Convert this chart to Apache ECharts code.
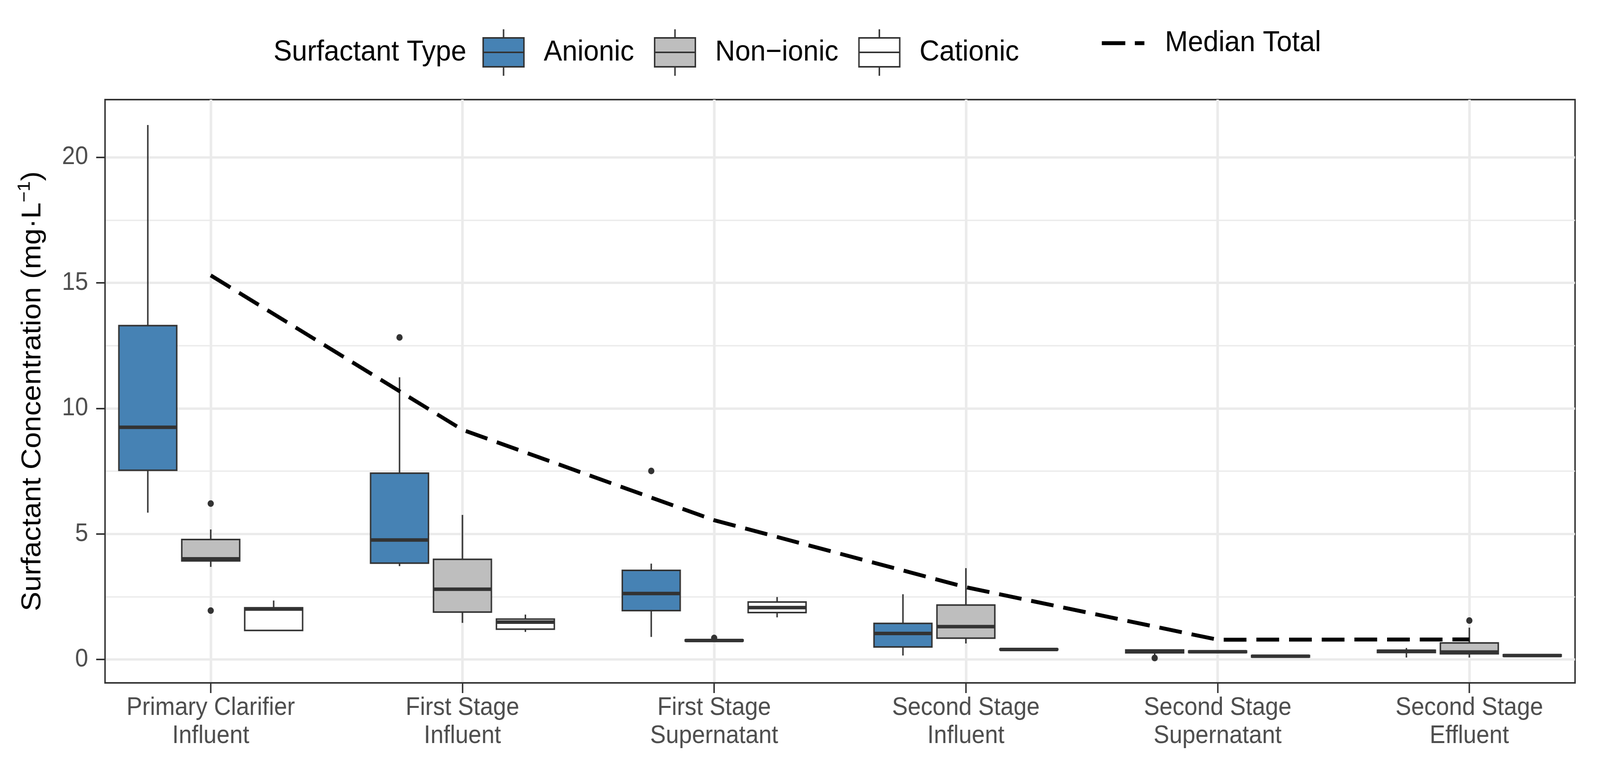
<!DOCTYPE html>
<html>
<head>
<meta charset="utf-8">
<script src="https://cdn.jsdelivr.net/npm/echarts@6/dist/echarts.min.js"></script>
<style>
  html, body { margin: 0; padding: 0; background: #ffffff; overflow: hidden; }
  #chart { width: 4358px; height: 1971px; transform-origin: 0 0; }
</style>
</head>
<body>
<div id="chart"></div>
<script>
// ---------------- data ----------------
const categories = [
  'Primary Clarifier\nInfluent',
  'First Stage\nInfluent',
  'First Stage\nSupernatant',
  'Second Stage\nInfluent',
  'Second Stage\nSupernatant',
  'Second Stage\nEffluent'
];
const typeNames = ['Anionic', 'Non\u2212ionic', 'Cationic'];

// [lower whisker, Q1, median, Q3, upper whisker]
const anionicStats = [
  [5.85, 7.54, 9.25, 13.30, 21.29],
  [3.72, 3.84, 4.76, 7.42, 11.24],
  [0.90, 1.95, 2.63, 3.55, 3.82],
  [0.16, 0.50, 1.04, 1.44, 2.60],
  [0.19, 0.27, 0.33, 0.38, 0.40],
  [0.08, 0.28, 0.33, 0.37, 0.46]
];
const anionicOutliers = [[], [12.83], [7.51], [], [0.06], []];

const nonionicStats = [
  [3.69, 3.93, 4.01, 4.78, 5.18],
  [1.46, 1.89, 2.80, 3.99, 5.76],
  [0.72, 0.74, 0.76, 0.78, 0.80],
  [0.64, 0.85, 1.31, 2.17, 3.64],
  [0.27, 0.28, 0.31, 0.34, 0.35],
  [0.08, 0.23, 0.30, 0.66, 1.27]
];
const nonionicOutliers = [[6.21, 1.95], [], [0.86], [], [], [1.55]];

const cationicStats = [
  [1.14, 1.16, 2.01, 2.06, 2.35],
  [1.10, 1.21, 1.49, 1.61, 1.79],
  [1.68, 1.87, 2.07, 2.29, 2.49],
  [0.38, 0.39, 0.40, 0.42, 0.43],
  [0.09, 0.10, 0.13, 0.16, 0.17],
  [0.12, 0.13, 0.16, 0.19, 0.20]
];
const cationicOutliers = [[], [], [], [], [], []];

const medianTotal = [15.3, 9.15, 5.55, 2.88, 0.79, 0.80];

const yTicks = [0, 5, 10, 15, 20];

// ---------------- fit the 4358 x 1971 design to the actual viewport ----------------
const DESIGN_W = 4358, DESIGN_H = 1971;
const chartEl = document.getElementById('chart');
function fitToViewport() {
  const sx = window.innerWidth / DESIGN_W;
  const sy = window.innerHeight / DESIGN_H;
  chartEl.style.transform = (Math.abs(sx - 1) < 1e-3 && Math.abs(sy - 1) < 1e-3) ? 'none' : 'scale(' + sx + ',' + sy + ')';
}
fitToViewport();

// ---------------- style ----------------
const FONT = '"Liberation Sans", Arial, Helvetica, sans-serif';
const EDGE = '#333333';
const FILLS = ['#4682B4', '#BEBEBE', '#FFFFFF'];
const DODGE = [-0.25, 0, 0.25];
const BOX_WIDTH = 0.23;
const GRID_COLOR = '#EBEBEB';

function boxRenderer(offset, fill, outliers) {
  return function (params, api) {
    const x = api.value(0) + offset;
    const p = [1, 2, 3, 4, 5].map(d => api.coord([x, api.value(d)]));
    const w = api.size([BOX_WIDTH, 0], [x, 0])[0];
    const cx = p[0][0];
    const left = cx - w / 2;
    const children = [
      { type: 'line', shape: { x1: cx, y1: p[4][1], x2: cx, y2: p[3][1] }, style: { stroke: EDGE, lineWidth: 4 } },
      { type: 'line', shape: { x1: cx, y1: p[1][1], x2: cx, y2: p[0][1] }, style: { stroke: EDGE, lineWidth: 4 } },
      { type: 'rect', shape: { x: left, y: p[3][1], width: w, height: p[1][1] - p[3][1] }, style: { fill: fill, stroke: EDGE, lineWidth: 4 } },
      { type: 'line', shape: { x1: left, y1: p[2][1], x2: left + w, y2: p[2][1] }, style: { stroke: EDGE, lineWidth: 9 } }
    ];
    (outliers[params.dataIndex] || []).forEach(v => {
      const q = api.coord([x, v]);
      children.push({ type: 'circle', shape: { cx: q[0], cy: q[1], r: 8.5 }, style: { fill: EDGE } });
    });
    return { type: 'group', children: children };
  };
}

const statsList = [anionicStats, nonionicStats, cationicStats];
const outlierList = [anionicOutliers, nonionicOutliers, cationicOutliers];

const boxSeries = typeNames.map((name, s) => ({
  name: name,
  type: 'custom',
  clip: false,
  z: 2,
  itemStyle: { color: FILLS[s], borderColor: EDGE, borderWidth: 4 },
  encode: { x: 0, y: [1, 2, 3, 4, 5] },
  data: statsList[s].map((st, i) => [i + 1].concat(st)),
  renderItem: boxRenderer(DODGE[s], FILLS[s], outlierList[s])
}));

const lineSeries = {
  name: 'Median Total',
  type: 'line',
  z: 5,
  symbol: 'none',
  itemStyle: { color: '#000000' },
  lineStyle: { color: '#000000', width: 10, type: [62, 27], cap: 'butt', join: 'round' },
  data: medianTotal.map((v, i) => [i + 1, v])
};

const BOX_ICON = 'path://M55.5,0L55.5,22M0,22L111,22L111,96L0,96ZM0,59L111,59M55.5,96L55.5,119';
const DASH_ICON = 'path://M0,0L64,0L64,10L0,10ZM90,0L116,0L116,10L90,10Z';

const chart = echarts.init(chartEl, null, { renderer: 'canvas', width: DESIGN_W, height: DESIGN_H });

const legendText = { fontSize: 75, color: '#000000', fontFamily: FONT };

chart.setOption({
  backgroundColor: '#ffffff',
  animation: false,
  textStyle: { fontFamily: FONT },
  title: {
    text: 'Surfactant Type',
    left: 745,
    top: 89,
    padding: 0,
    textStyle: { fontSize: 75, fontWeight: 'normal', color: '#000000', fontFamily: FONT, lineHeight: 90 }
  },
  legend: [
    {
      data: typeNames,
      left: 1314,
      top: 73,
      orient: 'horizontal',
      padding: 0,
      itemWidth: 111,
      itemHeight: 119,
      itemGap: 54,
      icon: BOX_ICON,
      selectedMode: false,
      itemStyle: { borderColor: EDGE, borderWidth: 4 },
      textStyle: Object.assign({ padding: [0, 0, 0, 49] }, legendText)
    },
    {
      data: [{ name: 'Median Total', icon: DASH_ICON }],
      left: 3001,
      top: 73,
      padding: 0,
      itemWidth: 116,
      itemHeight: 119,
      selectedMode: false,
      itemStyle: { color: '#000000', borderWidth: 0 },
      textStyle: Object.assign({ padding: [0, 0, 0, 51] }, legendText)
    }
  ],
  grid: {
    left: 286, right: 68, top: 255, bottom: 223,
    show: true, borderColor: EDGE, borderWidth: 4, backgroundColor: '#ffffff',
    containLabel: false
  },
  xAxis: {
    type: 'value',
    min: 0.58,
    max: 6.42,
    axisLine: { show: true, onZero: false, lineStyle: { color: EDGE, width: 4 } },
    axisTick: { show: true, customValues: categories.map((c, i) => i + 1), length: 26, lineStyle: { color: EDGE, width: 4 } },
    axisLabel: {
      customValues: categories.map((c, i) => i + 1),
      formatter: v => categories[Math.round(v) - 1],
      fontSize: 64, lineHeight: 72, color: '#4D4D4D', margin: 28, fontFamily: FONT
    },
    splitLine: { show: true, customValues: categories.slice(1).map((c, i) => i + 1.5), lineStyle: { color: GRID_COLOR, width: 7 } }
  },
  yAxis: {
    type: 'value',
    min: -0.93,
    max: 22.3,
    splitNumber: 5,
    name: '{a|Surfactant Concentration (mg\u00B7L}{b|\u22121}{a|)}',
    nameLocation: 'middle',
    nameRotate: 90,
    nameGap: 152,
    nameTextStyle: {
      rich: {
        a: { fontSize: 75, color: '#000000', fontFamily: FONT, lineHeight: 90 },
        b: { fontSize: 48, color: '#000000', fontFamily: FONT, lineHeight: 20, verticalAlign: 'top' }
      }
    },
    axisLine: { show: true, onZero: false, lineStyle: { color: EDGE, width: 4 } },
    axisTick: { show: true, customValues: yTicks, length: 24, lineStyle: { color: EDGE, width: 4 } },
    axisLabel: { customValues: yTicks, fontSize: 64, color: '#4D4D4D', margin: 46, fontFamily: FONT },
    splitLine: { show: true, customValues: yTicks, lineStyle: { color: GRID_COLOR, width: 6 } },
    minorTick: { show: false, splitNumber: 2 },
    minorSplitLine: { show: true, lineStyle: { color: GRID_COLOR, width: 3.5 } }
  },
  series: boxSeries.concat([lineSeries])
});
window.addEventListener('resize', fitToViewport);
</script>
</body>
</html>
